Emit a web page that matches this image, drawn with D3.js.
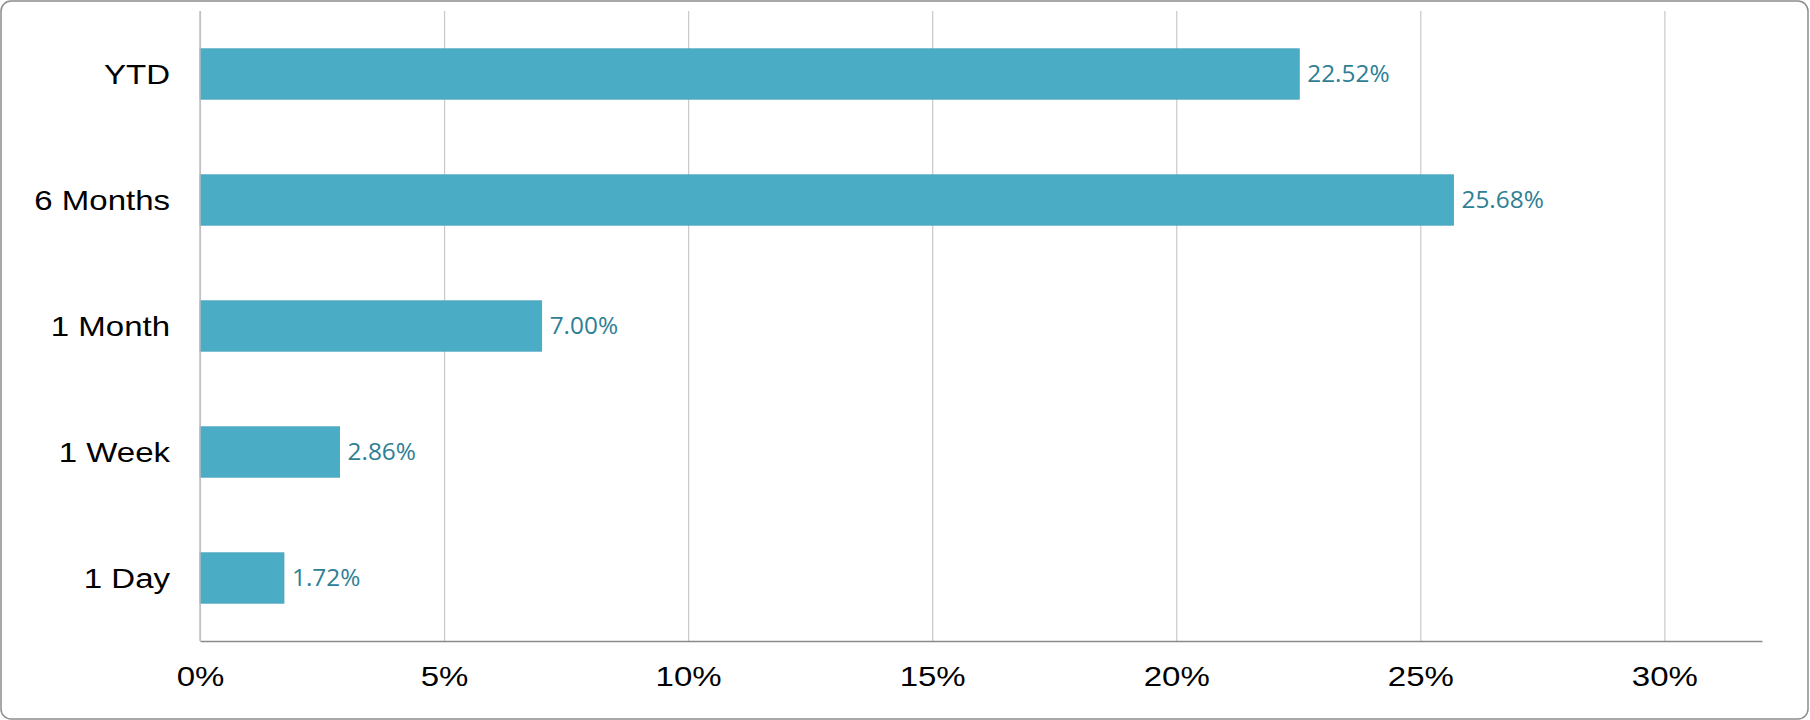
<!DOCTYPE html>
<html>
<head>
<meta charset="utf-8">
<script src="https://cdn.jsdelivr.net/npm/d3@7"></script>
<style>
  body { margin: 0; background: #fff; }
  svg { display: block; }
</style>
</head>
<body>
<div id="chart"></div>
<script>
// data
var periods = ["YTD", "6 Months", "1 Month", "1 Week", "1 Day"];
var returns = [0.2252, 0.2568, 0.0700, 0.0286, 0.0172];
var tickValues = [0, 0.05, 0.10, 0.15, 0.20, 0.25, 0.30];

var W = 1810, H = 720;
var margin = {top: 11, left: 200, bottom: 79, right: 48},
    width = W - margin.left - margin.right,
    height = H - margin.top - margin.bottom;

var data = periods.map(function(p, i) { return {period: p, value: returns[i]}; });

var svg = d3.select("#chart").append("svg")
  .attr("width", W)
  .attr("height", H);

// outer frame
svg.append("rect")
  .attr("x", 1).attr("y", 1)
  .attr("width", W - 3).attr("height", H - 2)
  .attr("rx", 10).attr("ry", 10)
  .attr("fill", "#fff")
  .attr("stroke", "#8c8c8c")
  .attr("stroke-width", 1.5);

var g = svg.append("g")
  .attr("transform", "translate(" + margin.left + "," + margin.top + ")");

var x = d3.scaleLinear()
  .domain([0, 0.32])
  .range([0, width]);

var y = d3.scaleBand()
  .domain(periods)
  .range([0, height])
  .paddingInner(0.6)
  .paddingOuter(0.3);

// vertical gridlines
var grid = g.append("g")
  .call(d3.axisBottom(x).tickValues(tickValues).tickSize(height).tickFormat(""));
grid.select(".domain").remove();
grid.selectAll("line").attr("stroke", "#c9c9c9").attr("stroke-width", 1.2);

// bars
g.selectAll(".bar")
  .data(data)
  .enter().append("rect")
    .attr("class", "bar")
    .attr("x", x(0))
    .attr("y", function(d) { return y(d.period); })
    .attr("width", function(d) { return x(d.value) - x(0); })
    .attr("height", y.bandwidth())
    .attr("fill", "#4bacc6")
    .attr("stroke", "#46a3bc")
    .attr("stroke-width", 0.8);

// value labels
g.selectAll(".val")
  .data(data)
  .enter().append("text")
    .attr("class", "val")
    .attr("transform", function(d) {
      return "translate(" + (x(d.value) + 8) + "," + (y(d.period) + y.bandwidth() / 2) + ") scale(1.06,1)";
    })
    .attr("dy", "0.36em")
    .attr("font-family", "'Open Sans', sans-serif")
    .attr("font-size", 23)
    .attr("fill", "#2e7f96")
    .text(function(d) { return d3.format(".2%")(d.value); });

// x axis
var xAxis = g.append("g")
  .attr("transform", "translate(0," + height + ")")
  .call(d3.axisBottom(x).tickValues(tickValues).tickSize(0).tickFormat(d3.format(".0%")));
xAxis.select(".domain").attr("stroke", "#8a8a8a").attr("stroke-width", 1.6);
xAxis.selectAll("text")
  .attr("y", 0).attr("dy", null)
  .attr("transform", "translate(0,45) scale(1.2,1)")
  .attr("font-family", "'Liberation Sans', Arial, sans-serif")
  .attr("font-size", 27.5)
  .attr("fill", "#000");

// y axis
var yAxis = g.append("g")
  .call(d3.axisLeft(y).tickSize(0));
yAxis.select(".domain").attr("stroke", "#bdbdbd").attr("stroke-width", 1.4)
  .attr("d", "M0,0V" + height);
yAxis.selectAll("text")
  .attr("x", 0).attr("dy", "0.36em")
  .attr("transform", "translate(-30,0) scale(1.2,1)")
  .attr("font-family", "'Liberation Sans', Arial, sans-serif")
  .attr("font-size", 27.5)
  .attr("fill", "#000");
</script>
</body>
</html>
